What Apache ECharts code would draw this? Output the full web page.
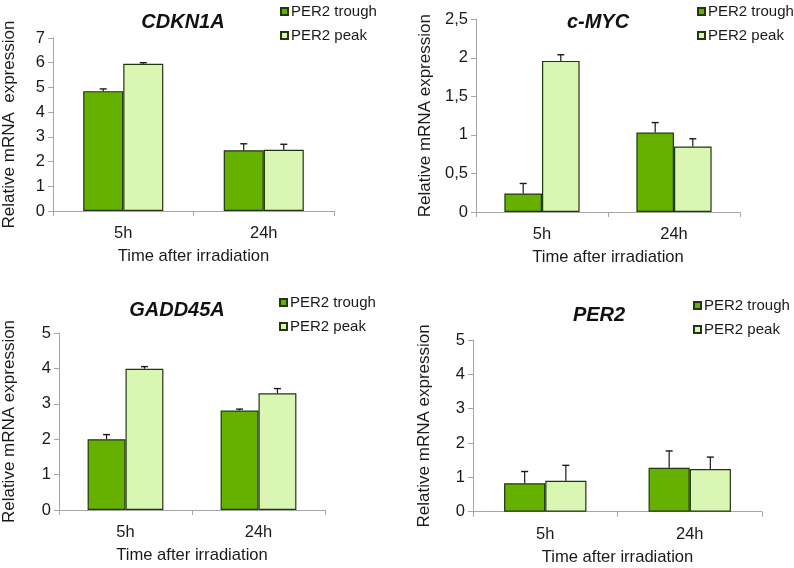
<!DOCTYPE html>
<html>
<head>
<meta charset="utf-8">
<script src="https://cdn.jsdelivr.net/npm/echarts@6/dist/echarts.min.js"></script>
<style>
html,body{margin:0;padding:0;background:#fff;}
#chart{width:794px;height:568px;}
</style>
</head>
<body>
<div id="chart"></div>
<script>
// ---- data ----
const categories = ['5h', '24h'];
const seriesNames = ['PER2 trough', 'PER2 peak'];
const panelTitles = ['CDKN1A', 'c-MYC', 'GADD45A', 'PER2'];
const yAxisNames = ['Relative mRNA  expression', 'Relative mRNA expression', 'Relative mRNA expression', 'Relative mRNA expression'];
const xAxisName = 'Time after irradiation';

const cdkn1aTrough = [4.85, 2.46];
const cdkn1aTroughErr = [0.09, 0.26];
const cdkn1aPeak = [5.96, 2.48];
const cdkn1aPeakErr = [0.04, 0.22];

const mycTrough = [0.24, 1.03];
const mycTroughErr = [0.13, 0.13];
const mycPeak = [1.96, 0.85];
const mycPeakErr = [0.08, 0.10];

const gaddTrough = [2.00, 2.81];
const gaddTroughErr = [0.13, 0.04];
const gaddPeak = [3.99, 3.30];
const gaddPeakErr = [0.06, 0.13];

const per2Trough = [0.83, 1.28];
const per2TroughErr = [0.34, 0.49];
const per2Peak = [0.90, 1.24];
const per2PeakErr = [0.45, 0.35];

const cdkn1aTicks = ['0', '1', '2', '3', '4', '5', '6', '7'];
const mycTicks = ['0', '0,5', '1', '1,5', '2', '2,5'];
const gaddTicks = ['0', '1', '2', '3', '4', '5'];
const per2Ticks = ['0', '1', '2', '3', '4', '5'];

// ---- layout / style ----
const FONT = '"Liberation Sans", Arial, sans-serif';
const troughColor = '#66b000';
const peakColor = '#d9f7b3';
const borderColor = '#22360f';
const axisColor = '#a6a6a6';
const catGap = 0.43;

const panels = [
  {trough: cdkn1aTrough, troughErr: cdkn1aTroughErr, peak: cdkn1aPeak, peakErr: cdkn1aPeakErr, ticks: cdkn1aTicks, step: 1,
   grid: {left: 52, top: 38, width: 282, height: 173}, yGap: 35, title: [183, 22], legend: {left: 280, top: 4}},
  {trough: mycTrough, troughErr: mycTroughErr, peak: mycPeak, peakErr: mycPeakErr, ticks: mycTicks, step: 0.5,
   grid: {left: 476, top: 19.3, width: 264, height: 192.7}, yGap: 42, title: [598, 22], legend: {left: 697, top: 4}},
  {trough: gaddTrough, troughErr: gaddTroughErr, peak: gaddPeak, peakErr: gaddPeakErr, ticks: gaddTicks, step: 1,
   grid: {left: 57, top: 333, width: 268, height: 177}, yGap: 41, title: [177, 310], legend: {left: 279, top: 295}},
  {trough: per2Trough, troughErr: per2TroughErr, peak: per2Peak, peakErr: per2PeakErr, ticks: per2Ticks, step: 1,
   grid: {left: 473, top: 340, width: 289, height: 171.7}, yGap: 40, title: [599, 315], legend: {left: 693, top: 298}}
];

function errRender(sign) {
  return function (params, api) {
    const x = api.value(0), y = api.value(1), e = api.value(2);
    const base = api.coord([x, y]);
    const top = api.coord([x, y + e]);
    const bw = api.size([1, 0])[0] * (1 - catGap) / 2;
    const cx = base[0] + sign * bw / 2;
    return {
      type: 'group',
      children: [
        {type: 'line', shape: {x1: cx, y1: base[1], x2: cx, y2: top[1]}, style: {stroke: '#1a1a1a', lineWidth: 1.2}},
        {type: 'line', shape: {x1: cx - 3.5, y1: top[1], x2: cx + 3.5, y2: top[1]}, style: {stroke: '#1a1a1a', lineWidth: 1.4}}
      ]
    };
  };
}

const option = {
  animation: false,
  backgroundColor: '#ffffff',
  textStyle: {fontFamily: FONT},
  grid: [], xAxis: [], yAxis: [], series: [], legend: [], graphic: []
};

panels.forEach(function (p, i) {
  option.grid.push(Object.assign({containLabel: false}, p.grid));
  option.xAxis.push({
    type: 'category', gridIndex: i, data: categories,
    axisLine: {lineStyle: {color: axisColor, width: 1}},
    axisTick: {show: true, length: 5, lineStyle: {color: axisColor}},
    axisLabel: {color: '#1a1a1a', fontSize: 16.5, fontFamily: FONT, margin: 14},
    name: xAxisName, nameLocation: 'middle', nameGap: 37,
    nameTextStyle: {color: '#1a1a1a', fontSize: 16.6, fontFamily: FONT}
  });
  const maxV = p.step * (p.ticks.length - 1);
  const ticks = p.ticks;
  const step = p.step;
  option.yAxis.push({
    type: 'value', gridIndex: i, min: 0, max: maxV, interval: step,
    axisLine: {show: true, lineStyle: {color: axisColor, width: 1}},
    axisTick: {show: true, length: 5, lineStyle: {color: axisColor}},
    splitLine: {show: false},
    axisLabel: {color: '#1a1a1a', fontSize: 16.5, fontFamily: FONT, margin: 8,
      formatter: function (v) { return ticks[Math.round(v / step)]; }},
    name: yAxisNames[i], nameLocation: 'middle', nameGap: p.yGap,
    nameTextStyle: {color: '#1a1a1a', fontSize: 17, fontFamily: FONT}
  });
  option.series.push({
    type: 'bar', name: seriesNames[0], xAxisIndex: i, yAxisIndex: i, data: p.trough,
    barGap: '0%', barCategoryGap: (catGap * 100) + '%',
    itemStyle: {color: troughColor, borderColor: borderColor, borderWidth: 1.2}
  });
  option.series.push({
    type: 'bar', name: seriesNames[1], xAxisIndex: i, yAxisIndex: i, data: p.peak,
    barGap: '0%', barCategoryGap: (catGap * 100) + '%',
    itemStyle: {color: peakColor, borderColor: borderColor, borderWidth: 1.2}
  });
  option.series.push({
    type: 'custom', name: 'err-trough-' + i, xAxisIndex: i, yAxisIndex: i, z: 5,
    renderItem: errRender(-1), encode: {x: 0, y: 1},
    data: p.trough.map(function (v, k) { return [k, v, p.troughErr[k]]; })
  });
  option.series.push({
    type: 'custom', name: 'err-peak-' + i, xAxisIndex: i, yAxisIndex: i, z: 5,
    renderItem: errRender(1), encode: {x: 0, y: 1},
    data: p.peak.map(function (v, k) { return [k, v, p.peakErr[k]]; })
  });
  option.legend.push({
    orient: 'vertical', left: p.legend.left, top: p.legend.top,
    data: seriesNames, icon: 'rect', itemWidth: 7, itemHeight: 7, itemGap: 9,
    textStyle: {color: '#1a1a1a', fontSize: 15, fontFamily: FONT, padding: [0, 0, 0, -2]},
    padding: 0, selectedMode: false
  });
  option.graphic.push({
    type: 'text', x: p.title[0], y: p.title[1],
    style: {text: panelTitles[i], fill: '#111', font: 'italic bold 20px ' + FONT, textAlign: 'center', textVerticalAlign: 'middle'}
  });
});

const chart = echarts.init(document.getElementById('chart'), null, {renderer: 'canvas'});
chart.setOption(option);
</script>
</body>
</html>
